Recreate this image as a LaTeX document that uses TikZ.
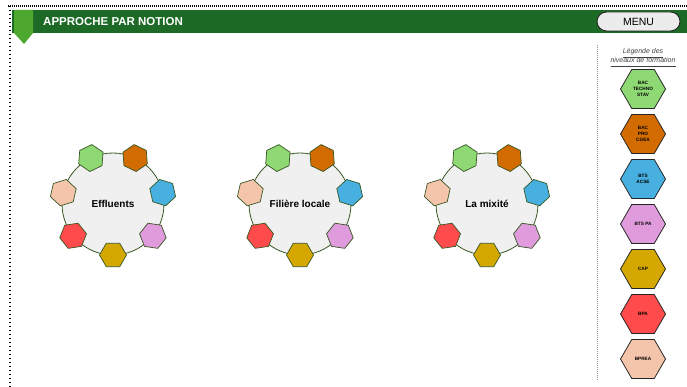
\documentclass[tikz,border=0pt]{standalone}
\usepackage{fontspec}
\setmainfont{Liberation Sans}
\usetikzlibrary{shapes.geometric,calc}
\definecolor{hgreen}{HTML}{8ED973}
\definecolor{horange}{HTML}{D36C00}
\definecolor{hblue}{HTML}{47B0E0}
\definecolor{hpink}{HTML}{E09BDC}
\definecolor{hgold}{HTML}{D4A800}
\definecolor{hred}{HTML}{FF4B4B}
\definecolor{hpeach}{HTML}{F5C5AB}
\definecolor{bargreen}{HTML}{1C6A26}
\definecolor{pennant}{HTML}{4EA72E}
\definecolor{ringline}{HTML}{375623}
\definecolor{ringfill}{HTML}{F0F0F0}
\definecolor{menufill}{HTML}{ECECEC}
\definecolor{legtext}{HTML}{404040}
\tikzset{
  ringhex/.style={regular polygon, regular polygon sides=6, minimum size=27pt, inner sep=0pt, draw=ringline, line width=0.7pt},
  leghex/.style={regular polygon, regular polygon sides=6, minimum size=45pt, inner sep=0pt, draw=black!85, line width=0.8pt, font=\fontsize{4.7}{6}\selectfont\bfseries, align=center},
  ring/.style={circle, draw=ringline, fill=ringfill, line width=0.8pt, minimum size=102pt, inner sep=0pt, font=\fontsize{10}{12}\selectfont\bfseries},
}
\begin{document}
\begin{tikzpicture}[x=1pt,y=-1pt]
\useasboundingbox (0,0) rectangle (687,387);
% borders
\coordinate (tl) at (8,6);
\coordinate (tr) at (687,6);
\coordinate (lt) at (10,6);
\coordinate (lb) at (10,387);
\draw[line width=1.1pt, dash pattern=on 1pt off 1pt] (tl) -- (tr);
\draw[line width=1.3pt, dash pattern=on 1.3pt off 2.7pt] (lt) -- (lb);
% header bar
\fill[bargreen] (12,10) rectangle (687,33);
\fill[pennant] (14,10) -- (33,10) -- (33,33) -- (24,44) -- (14,33) -- cycle;
\node[anchor=west, text=white, font=\fontsize{11.5}{13}\selectfont\bfseries, inner sep=0pt] (title) at (43,21.5) {APPROCHE PAR NOTION};
\node[draw=black!85, fill=menufill, line width=0.9pt, rounded corners=9.5pt, minimum width=83pt, minimum height=19pt, inner sep=0pt, font=\fontsize{10.5}{12}\selectfont] (menu) at (638.5,21.5) {MENU};
% legend separator
\coordinate (s1) at (597,45);
\coordinate (s2) at (597,380);
\draw[black!40, line width=0.8pt, dash pattern=on 0.8pt off 1.2pt] (s1) -- (s2);
\node[font=\fontsize{7}{9}\selectfont\itshape, text=legtext, align=center, inner sep=0pt] (legtitle) at (643,57.5) {\underline{\vphantom{g}Légende des}\\\underline{\vphantom{g}niveaux de formation}};
% legend hexagons
\node[leghex, fill=hgreen] (l1) at (643,89) {BAC\\TECHNO\\STAV};
\node[leghex, fill=horange] (l2) at (643,134) {BAC\\PRO\\CGEA};
\node[leghex, fill=hblue] (l3) at (643,179) {BTS\\ACSE};
\node[leghex, fill=hpink] (l4) at (643,224) {BTS PA};
\node[leghex, fill=hgold] (l5) at (643,269) {CAP};
\node[leghex, fill=hred] (l6) at (643,314) {BPA};
\node[leghex, fill=hpeach] (l7) at (643,359) {BPREA};
% clusters
\foreach \cx/\lab/\id in {113/Effluents/1, 300/Filière locale/2, 487/La mixité/3}{
  \node[ring] (c\id) at (\cx,204) {\lab};
  \foreach \k/\col in {0/hgold,1/hpink,2/hblue,3/horange,4/hgreen,5/hpeach,6/hred}{
    \pgfmathsetmacro{\ang}{90-\k*360/7}
    \pgfmathsetmacro{\rot}{\k*360/7}
    \node[ringhex, fill=\col, regular polygon rotate=\rot] (c\id-h\k) at ($(c\id.center)+(\ang:51)$) {};
  }
}
\end{tikzpicture}
\end{document}
